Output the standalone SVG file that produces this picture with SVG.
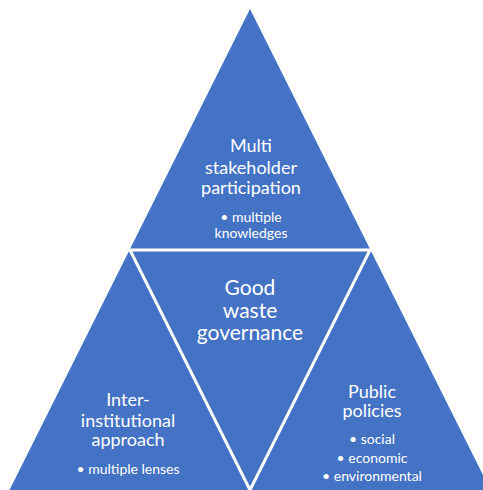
<svg xmlns="http://www.w3.org/2000/svg" width="483" height="490" viewBox="0 0 483 490">
<style>
.tri{fill:#4472C4;}
.sep{stroke:#ffffff;stroke-width:3;fill:none;}
text{font-family:Lato,"Open Sans","Liberation Sans",sans-serif;fill:#ffffff;text-anchor:middle;}
.t{font-size:18px;}
.c{font-size:21px;}
.b{font-size:14px;}
</style>
<rect width="483" height="490" fill="#ffffff"/>
<g id="pyramid">
<polygon class="tri" points="250,9 490.5,490 9.5,490"/>
</g>
<g id="connectors">
<line class="sep" x1="120" y1="250" x2="380" y2="250"/>
<line class="sep" x1="130" y1="250" x2="250" y2="490"/>
<line class="sep" x1="370" y1="250" x2="250" y2="490"/>
</g>
<g id="top">
<text class="t" x="251" y="152">Multi</text>
<text class="t" x="251" y="174">stakeholder</text>
<text class="t" x="251" y="194">participation</text>
<text class="b" x="251" y="222">• multiple</text>
<text class="b" x="251" y="238">knowledges</text>
</g>
<g id="center">
<text class="c" x="250" y="295">Good</text>
<text class="c" x="250" y="318">waste</text>
<text class="c" x="250" y="340">governance</text>
</g>
<g id="left">
<text class="t" x="128" y="406">Inter-</text>
<text class="t" x="128" y="427">institutional</text>
<text class="t" x="128" y="446">approach</text>
<text class="b" x="128" y="474">• multiple lenses</text>
</g>
<g id="right">
<text class="t" x="372" y="398">Public</text>
<text class="t" x="372" y="417">policies</text>
<text class="b" x="372" y="444">• social</text>
<text class="b" x="372" y="463">• economic</text>
<text class="b" x="372" y="481">• environmental</text>
</g>
</svg>
